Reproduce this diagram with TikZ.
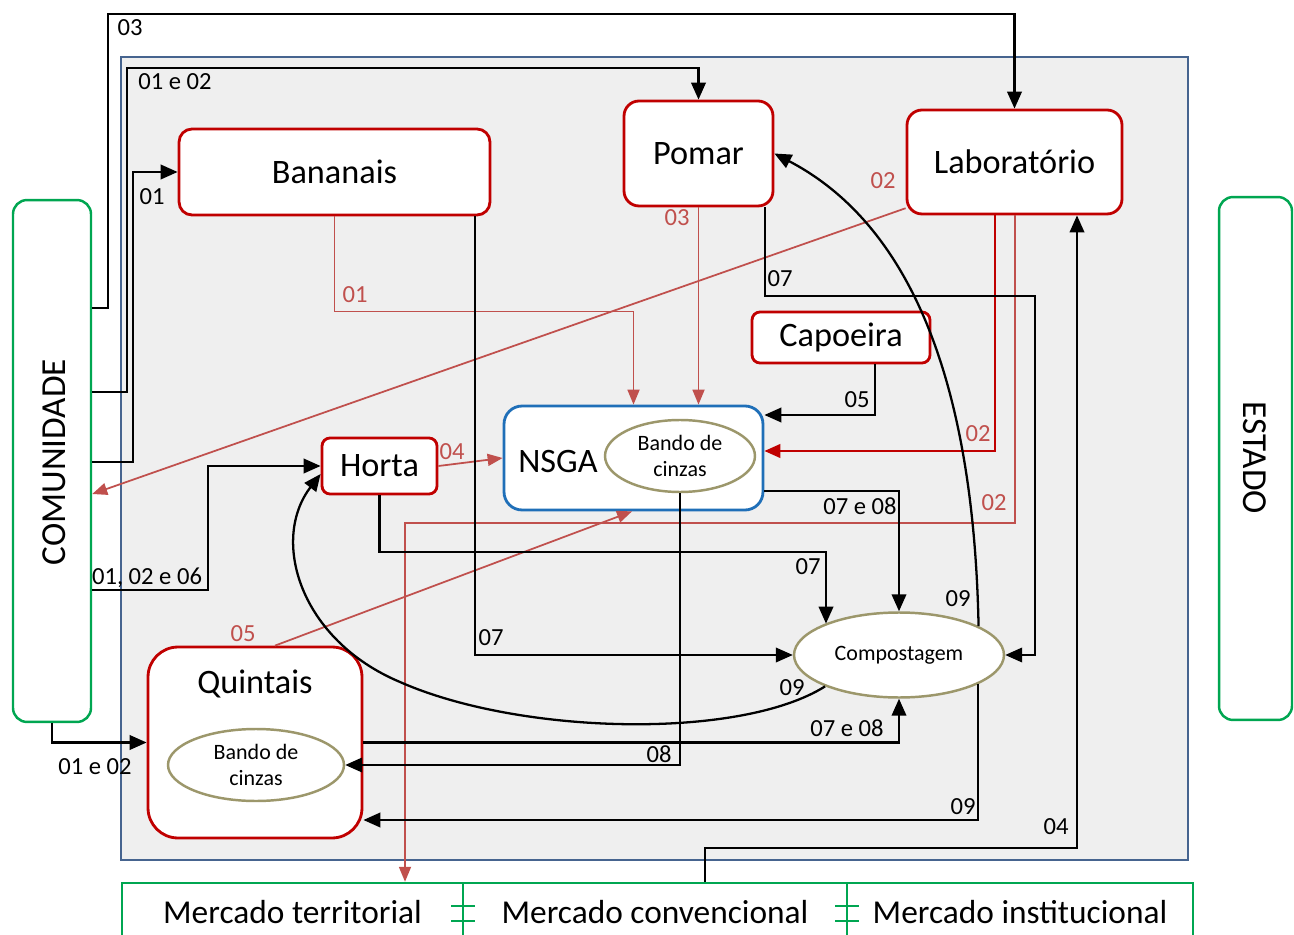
\documentclass[tikz,border=0pt]{standalone}
\usepackage{fontspec}
\setmainfont{Carlito}
\usetikzlibrary{arrows.meta,shapes.geometric}

\definecolor{unitred}{HTML}{C00000}
\definecolor{flowred}{HTML}{C0504D}
\definecolor{panelgray}{HTML}{EFEFEF}
\definecolor{panelblue}{HTML}{46648F}
\definecolor{coreblue}{HTML}{1F6FB8}
\definecolor{poololive}{HTML}{9C976B}
\definecolor{agentgreen}{HTML}{00A651}

\tikzset{
  unit/.style={draw=unitred, line width=1.6pt, fill=white, inner sep=0pt, rounded corners=#1},
  core/.style={draw=coreblue, line width=1.6pt, fill=white, inner sep=0pt, rounded corners=0.36cm},
  pool/.style={ellipse, draw=poololive, line width=1.4pt, fill=white, inner sep=0pt},
  agent/.style={draw=agentgreen, line width=1.4pt, fill=white, inner sep=0pt, rounded corners=0.28cm},
  market/.style={draw=agentgreen, line width=1.4pt, fill=white, inner sep=0pt,
                 minimum height=1.16cm, font=\fontsize{19}{22}\selectfont},
  big/.style={font=\fontsize{19.5}{22}\selectfont},
  vert/.style={font=\fontsize{20}{22}\selectfont, inner sep=0pt},
  pooltext/.style={font=\fontsize{12.5}{15}\selectfont, align=center},
  num/.style={font=\fontsize{14}{16}\selectfont, inner sep=0pt},
  rnum/.style={num, text=flowred},
  flow/.style={draw=black, line width=1.3pt, -{Triangle[length=0.34cm,width=0.29cm]}},
  rflow/.style={draw=flowred, line width=1pt, -{Triangle[length=0.3cm,width=0.24cm]}},
  dflow/.style={draw=unitred, line width=1.5pt, -{Triangle[length=0.32cm,width=0.27cm]}},
}

\begin{document}
\begin{tikzpicture}[x=0.02cm, y=-0.02cm]
\clip (0,0) rectangle (1294,935);
\fill[white] (0,0) rectangle (1294,935);

% property area
\filldraw[fill=panelgray, draw=panelblue, line width=1.4pt] (121,57) rectangle (1188,860);

% external actors
\node[agent, minimum width=1.56cm, minimum height=10.44cm] (com) at (52,461) {};
\node[vert, rotate=90] (comtxt) at (54,462) {COMUNIDADE};
\node[agent, minimum width=1.46cm, minimum height=10.46cm] (est) at (1255.5,458.5) {};
\node[vert, rotate=-90] (esttxt) at (1255,458) {ESTADO};

% markets
\node[market, minimum width=6.82cm] (merc1) at (292.5,912) {Mercado territorial};
\node[market, minimum width=7.68cm] (merc2) at (655,912) {Mercado convencional};
\node[market, minimum width=6.92cm] (merc3) at (1020,912) {Mercado institucional};
\draw[agentgreen, line width=1.4pt] (451,906) -- (475,906) (451,921) -- (475,921)
                                   (835,906) -- (859,906) (835,921) -- (859,921);

% production units
\node[unit=0.26cm, minimum width=6.22cm, minimum height=1.72cm, big] (ban) at (334.5,172) {Bananais};
\node[unit=0.3cm, minimum width=2.98cm, minimum height=2.1cm, big] (pom) at (698.5,153.5) {Pomar};
\node[unit=0.3cm, minimum width=4.3cm, minimum height=2.08cm, big] (lab) at (1014.5,162) {Laboratório};
\node[unit=0.16cm, minimum width=3.56cm, minimum height=1.02cm, big] (cap) at (841,337.5) {Capoeira};
\node[unit=0.16cm, minimum width=2.3cm, minimum height=1.12cm, big] (hor) at (379.5,466) {Horta};
\node[unit=0.6cm, minimum width=4.28cm, minimum height=3.82cm] (qui) at (255,742.5) {};
\node[big, inner sep=0pt] (quitxt) at (255,684) {Quintais};
\node[pool, pooltext, minimum width=3.52cm, minimum height=1.44cm] (cinq) at (256,765) {Bando de\\cinzas};
\node[core, minimum width=5.18cm, minimum height=2.08cm] (nsga) at (633.5,458) {};
\node[big, inner sep=0pt] (nsgatxt) at (558,461) {NSGA};
\node[pool, pooltext, minimum width=3cm, minimum height=1.44cm] (cinn) at (680,456) {Bando de\\cinzas};
\node[pool, minimum width=4.2cm, minimum height=1.7cm, font=\fontsize{12.5}{15}\selectfont] (comp) at (899,655) {Compostagem};

% flows from the community
\draw[flow] (com.east |- 0,308) -| (108,14) -| (lab.north);
\draw[flow] (com.east |- 0,392) -| (127,68) -| (pom.north);
\draw[flow] (com.east |- 0,462) -| (133,172) -- (ban.west);
\draw[flow] (com.east |- 0,590) -| (208,466) -- (hor.west);
\draw[flow] (com.south) |- (qui.west);

% flows into the NSGA
\draw[rflow] (lab.203) -- (com.east |- 0,494);
\draw[rflow] (ban.south) -- ++(0,95) -| (nsga.north);
\draw[rflow] (pom.south) -- (nsga.north -| pom.south);
\draw[rflow] (hor.east) -- (nsga.west);
\draw[flow] (cap.south -| 875,0) |- (nsga.east |- 0,415);
\draw[dflow] (lab.south -| 995,0) |- (nsga.east |- 0,451);
\draw[rflow] (lab.south -| 1015,0) -- (1015,523) -| (merc1.north -| 405,0);
\draw[rflow] (qui.north -| 275,0) -- (nsga.south -| 632,0);

% flows into the compost
\draw[flow] (pom.south -| 765,0) -- (765,296) -| (1035,655) -- (comp.east);
\draw[flow] (ban.south -| 475,0) |- (comp.west);
\draw[flow] (hor.south) |- (826,552) -- (comp.157 -| 826,0);
\draw[flow] (nsga.east |- 0,491) -| (comp.north);
\draw[flow] (cinn.south) |- (cinq.east);
\draw[flow] (qui.east) -| (comp.south);

% compost returns
\draw[flow] (comp.340 -| 978,0) |- (qui.east |- 0,820);
\draw[flow] (comp.203) .. controls (740,740) and (520,735) .. (400,682)
            .. controls (300,640) and (270,540) .. (hor.west |- 0,474);
\draw[flow] (comp.20) .. controls (975,450) and (940,240) .. (pom.east);

% sales to the state laboratory
\draw[flow] (merc2.north -| 705,0) |- (1077,848) -- (lab.south -| 1077,0);

% flow numbers
\node[num] (t1) at (130,28) {03};
\node[num] (t2) at (175,82) {01 e 02};
\node[num] (t3) at (152,197) {01};
\node[num] (t4) at (147,578) {01, 02 e 06};
\node[num] (t5) at (95,767) {01 e 02};
\node[rnum] (t6) at (883,181) {02};
\node[rnum] (t7) at (355,295) {01};
\node[rnum] (t8) at (677,218) {03};
\node[rnum] (t9) at (452,452) {04};
\node[num] (t10) at (857,400) {05};
\node[rnum] (t11) at (978,434) {02};
\node[rnum] (t12) at (994,503) {02};
\node[rnum] (t13) at (243,634) {05};
\node[num] (t14) at (780,279) {07};
\node[num] (t15) at (491,638) {07};
\node[num] (t16) at (808,567) {07};
\node[num] (t17) at (860,506) {07 e 08};
\node[num] (t18) at (659,754) {08};
\node[num] (t19) at (847,728) {07 e 08};
\node[num] (t20) at (963,807) {09};
\node[num] (t21) at (792,688) {09};
\node[num] (t22) at (958,599) {09};
\node[num] (t23) at (1056,827) {04};
\end{tikzpicture}
\end{document}
